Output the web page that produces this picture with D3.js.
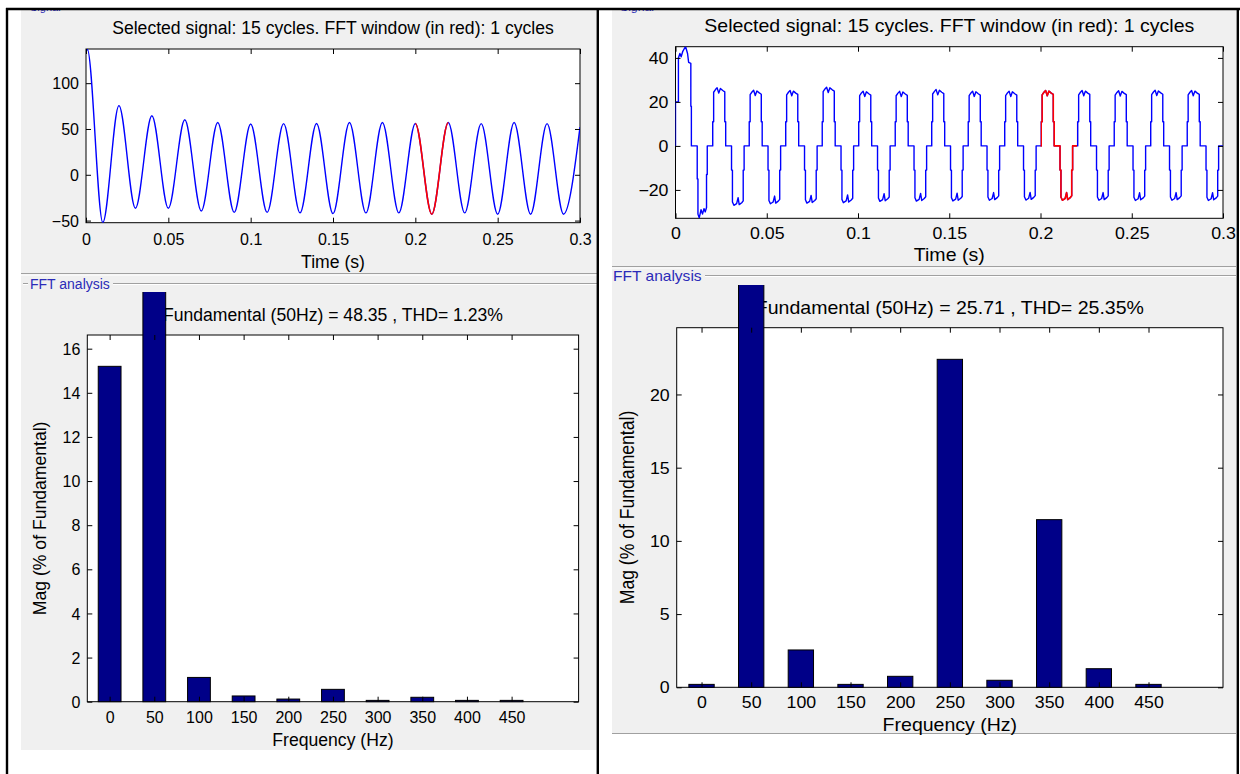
<!DOCTYPE html>
<html><head><meta charset="utf-8">
<script src="https://cdn.jsdelivr.net/npm/d3@7"></script>
<style>body{margin:0;background:#fff;overflow:hidden}</style>
</head><body>
<svg id="c" width="1240" height="774"></svg>
<script>
// ---------------- DATA ----------------
const sigTitle = "Selected signal: 15 cycles. FFT window (in red): 1 cycles";
const timeTicks = [0, 0.05, 0.1, 0.15, 0.2, 0.25, 0.3];
const timeTickLabels = ["0", "0.05", "0.1", "0.15", "0.2", "0.25", "0.3"];
const fftWindow = [0.2, 0.22];
const freqCategories = [0, 50, 100, 150, 200, 250, 300, 350, 400, 450];
const freqTickLabels = ["0", "50", "100", "150", "200", "250", "300", "350", "400", "450"];

// left case : sinusoidal signal with decaying DC offset (peaks / troughs)
const leftSignal = [
  [0,134],[0.0008,137],[0.0102,-52],[0.02,75.5],[0.03,-36.5],[0.04,64.5],[0.05,-36.5],
  [0.06,60],[0.07,-39.5],[0.08,57],[0.09,-41],[0.10,55.5],[0.11,-41],[0.12,55.8],
  [0.13,-41.6],[0.14,56],[0.15,-42.4],[0.16,57],[0.17,-41.6],[0.18,57],[0.19,-41.6],
  [0.20,56],[0.21,-43],[0.22,57],[0.23,-41.6],[0.24,55.8],[0.25,-43],[0.26,57],
  [0.27,-43],[0.28,55.8],[0.29,-43],[0.30,52]
];
const leftSignalYTicks = [-50, 0, 50, 100];
const leftSignalYDomain = [-52.3, 137.3];
const leftFundamental = "Fundamental (50Hz) = 48.35 , THD= 1.23%";
const leftHarmonics = [15.2, 100, 1.1, 0.26, 0.12, 0.56, 0.06, 0.2, 0.06, 0.06];
const leftFftYTicks = [0, 2, 4, 6, 8, 10, 12, 14, 16];
const leftFftYDomain = [0, 16.62];

// right case : stepped quasi-square signal
const rightSignal = [
  [0,0],[0,20],[0.0016,20],[0.0016,40],[0.0024,42],[0.0031,40.5],[0.0040,43],[0.0055,45.2],[0.0066,42],[0.0072,38],[0.0084,37.5],[0.0084,18],[0.0087,18],[0.0087,0],
  [0.0119,0],[0.0119,-15],[0.0123,-15],[0.0123,-31],[0.0130,-32.7],[0.0140,-29],[0.0148,-31],[0.0156,-28.5],[0.0163,-30],[0.0170,-28],[0.0170,-13],[0.0174,-13],[0.0174,0],
  [.0204,0],[.0204,11],[.0209,11],[.0209,24.4],[.0219,25.6],[.0228,26.4],[.0237,24.0],[.0246,26.1],[.0259,25.2],[.0270,24.6],[.0270,11],[.0275,11],[.0275,0],
  [.0307,0],[.0307,-11],[.0312,-11],[.0312,-25.5],[.0320,-27],[.0335,-26.2],[.0343,-23.5],[.0349,-26.7],[.0363,-25.8],[.0371,-25],[.0371,-11],[.0376,-11],[.0376,0],
  [.0404,0],[.0404,11],[.0409,11],[.0409,23.3],[.0419,24.5],[.0428,25.3],[.0437,22.9],[.0446,25.0],[.0459,24.1],[.0470,23.5],[.0470,11],[.0475,11],[.0475,0],
  [.0507,0],[.0507,-11],[.0512,-11],[.0512,-24.8],[.0520,-26.3],[.0535,-25.5],[.0543,-22.8],[.0549,-26.0],[.0563,-25.1],[.0571,-24.3],[.0571,-11],[.0576,-11],[.0576,0],
  [.0604,0],[.0604,11],[.0609,11],[.0609,23.2],[.0619,24.4],[.0628,25.2],[.0637,22.8],[.0646,24.9],[.0659,24.0],[.0670,23.4],[.0670,11],[.0675,11],[.0675,0],
  [.0707,0],[.0707,-11],[.0712,-11],[.0712,-24.5],[.0720,-26],[.0735,-25.2],[.0743,-22.5],[.0749,-25.7],[.0763,-24.8],[.0771,-24],[.0771,-11],[.0776,-11],[.0776,0],
  [.0804,0],[.0804,11],[.0809,11],[.0809,24.7],[.0819,25.9],[.0828,26.7],[.0837,24.3],[.0846,26.4],[.0859,25.5],[.0870,24.9],[.0870,11],[.0875,11],[.0875,0],
  [.0907,0],[.0907,-11],[.0912,-11],[.0912,-24.3],[.0920,-25.8],[.0935,-25.0],[.0943,-22.3],[.0949,-25.5],[.0963,-24.6],[.0971,-23.8],[.0971,-11],[.0976,-11],[.0976,0],
  [.1004,0],[.1004,11],[.1009,11],[.1009,22.9],[.1019,24.1],[.1028,24.9],[.1037,22.5],[.1046,24.6],[.1059,23.7],[.1070,23.1],[.1070,11],[.1075,11],[.1075,0],
  [.1107,0],[.1107,-11],[.1112,-11],[.1112,-23.7],[.1120,-25.2],[.1135,-24.4],[.1143,-21.7],[.1149,-24.9],[.1163,-24.0],[.1171,-23.2],[.1171,-11],[.1176,-11],[.1176,0],
  [.1204,0],[.1204,11],[.1209,11],[.1209,22.8],[.1219,24.0],[.1228,24.8],[.1237,22.4],[.1246,24.5],[.1259,23.6],[.1270,23.0],[.1270,11],[.1275,11],[.1275,0],
  [.1307,0],[.1307,-11],[.1312,-11],[.1312,-23.6],[.1320,-25.1],[.1335,-24.3],[.1343,-21.6],[.1349,-24.8],[.1363,-23.9],[.1371,-23.1],[.1371,-11],[.1376,-11],[.1376,0],
  [.1404,0],[.1404,11],[.1409,11],[.1409,23.6],[.1419,24.8],[.1428,25.6],[.1437,23.2],[.1446,25.3],[.1459,24.4],[.1470,23.8],[.1470,11],[.1475,11],[.1475,0],
  [.1507,0],[.1507,-11],[.1512,-11],[.1512,-23.5],[.1520,-25],[.1535,-24.2],[.1543,-21.5],[.1549,-24.7],[.1563,-23.8],[.1571,-23],[.1571,-11],[.1576,-11],[.1576,0],
  [.1604,0],[.1604,11],[.1609,11],[.1609,22.9],[.1619,24.1],[.1628,24.9],[.1637,22.5],[.1646,24.6],[.1659,23.7],[.1670,23.1],[.1670,11],[.1675,11],[.1675,0],
  [.1707,0],[.1707,-11],[.1712,-11],[.1712,-23.2],[.1720,-24.7],[.1735,-23.9],[.1743,-21.2],[.1749,-24.4],[.1763,-23.5],[.1771,-22.7],[.1771,-11],[.1776,-11],[.1776,0],
  [.1804,0],[.1804,11],[.1809,11],[.1809,22.9],[.1819,24.1],[.1828,24.9],[.1837,22.5],[.1846,24.6],[.1859,23.7],[.1870,23.1],[.1870,11],[.1875,11],[.1875,0],
  [.1907,0],[.1907,-11],[.1912,-11],[.1912,-23.1],[.1920,-24.6],[.1935,-23.8],[.1943,-21.1],[.1949,-24.3],[.1963,-23.4],[.1971,-22.6],[.1971,-11],[.1976,-11],[.1976,0],
  [.2000,0],
  [.2004,0],[.2004,11],[.2009,11],[.2009,23.2],[.2019,24.4],[.2028,25.2],[.2037,22.8],[.2046,24.9],[.2059,24.0],[.2070,23.4],[.2070,11],[.2075,11],[.2075,0],
  [.2107,0],[.2107,-11],[.2112,-11],[.2112,-23.2],[.2120,-24.7],[.2135,-23.9],[.2143,-21.2],[.2149,-24.4],[.2163,-23.5],[.2171,-22.7],[.2171,-11],[.2176,-11],[.2176,0],
  [.2200,0],
  [.2204,0],[.2204,11],[.2209,11],[.2209,23.2],[.2219,24.4],[.2228,25.2],[.2237,22.8],[.2246,24.9],[.2259,24.0],[.2270,23.4],[.2270,11],[.2275,11],[.2275,0],
  [.2307,0],[.2307,-11],[.2312,-11],[.2312,-23.2],[.2320,-24.7],[.2335,-23.9],[.2343,-21.2],[.2349,-24.4],[.2363,-23.5],[.2371,-22.7],[.2371,-11],[.2376,-11],[.2376,0],
  [.2404,0],[.2404,11],[.2409,11],[.2409,23.1],[.2419,24.3],[.2428,25.1],[.2437,22.7],[.2446,24.8],[.2459,23.9],[.2470,23.3],[.2470,11],[.2475,11],[.2475,0],
  [.2507,0],[.2507,-11],[.2512,-11],[.2512,-23.3],[.2520,-24.8],[.2535,-24.0],[.2543,-21.3],[.2549,-24.5],[.2563,-23.6],[.2571,-22.8],[.2571,-11],[.2576,-11],[.2576,0],
  [.2604,0],[.2604,11],[.2609,11],[.2609,23.3],[.2619,24.5],[.2628,25.3],[.2637,22.9],[.2646,25.0],[.2659,24.1],[.2670,23.5],[.2670,11],[.2675,11],[.2675,0],
  [.2707,0],[.2707,-11],[.2712,-11],[.2712,-23.2],[.2720,-24.7],[.2735,-23.9],[.2743,-21.2],[.2749,-24.4],[.2763,-23.5],[.2771,-22.7],[.2771,-11],[.2776,-11],[.2776,0],
  [.2804,0],[.2804,11],[.2809,11],[.2809,23.2],[.2819,24.4],[.2828,25.2],[.2837,22.8],[.2846,24.9],[.2859,24.0],[.2870,23.4],[.2870,11],[.2875,11],[.2875,0],
  [.2907,0],[.2907,-11],[.2912,-11],[.2912,-23.3],[.2920,-24.8],[.2935,-24.0],[.2943,-21.3],[.2949,-24.5],[.2963,-23.6],[.2971,-22.8],[.2971,-11],[.2976,-11],[.2976,0],
  [.3000,0]
];
const rightSignalYTicks = [-20, 0, 20, 40];
const rightSignalYDomain = [-32.9, 45.1];
const rightFundamental = "Fundamental (50Hz) = 25.71 , THD= 25.35%";
const rightHarmonics = [0.2, 100, 2.55, 0.2, 0.75, 22.4, 0.48, 11.45, 1.27, 0.2];
const rightFftYTicks = [0, 5, 10, 15, 20];
const rightFftYDomain = [0, 24.56];

// ---------------- LAYOUT ----------------
const FONT = '"Liberation Sans", Arial, Helvetica, sans-serif';
const panels = [
  { sx: 1, bg: [21, 10, 597, 750], sig: [86, 49, 580, 222.7], fft: [87.3, 335, 578.6, 701.7],
    sigTitleY: 28, sigXTickY: 239.5, timeLabY: 262, sepY: 273.5, frameY: 283.5, fftLabX: 30, dash: true,
    fftTitleY: 315, fftXTickY: 717, freqLabY: 740, yLabX: 40, clipTop: 292, sigLabX: 30,
    signal: leftSignal, curve: d3.curveMonotoneX, sigY: leftSignalYDomain, sigYT: leftSignalYTicks,
    fund: leftFundamental, harm: leftHarmonics, fftY: leftFftYDomain, fftYT: leftFftYTicks, bottomLine: false },
  { sx: 1.11, bg: [612, 10, 1236, 733], sig: [675.5, 46.7, 1223, 218.3], fft: [676.7, 327.7, 1223, 687.3],
    sigTitleY: 26, sigXTickY: 233, timeLabY: 255, sepY: 266.5, frameY: 275.5, fftLabX: 613, dash: false,
    fftTitleY: 308, fftXTickY: 702, freqLabY: 725, yLabX: 627, clipTop: 285, sigLabX: 620,
    signal: rightSignal, curve: d3.curveLinear, sigY: rightSignalYDomain, sigYT: rightSignalYTicks,
    fund: rightFundamental, harm: rightHarmonics, fftY: rightFftYDomain, fftYT: rightFftYTicks, bottomLine: true }
];

const svg = d3.select("#c");
const defs = svg.append("defs");
const BG = "#f0f0f0";

function txt(g, x, y, s, size, sx, opts = {}) {
  return g.append("text")
    .attr("transform", `translate(${x},${y}) scale(${sx},1)` + (opts.rot ? " rotate(-90)" : ""))
    .attr("dy", opts.dy || "0.35em")
    .attr("text-anchor", opts.anchor || "middle")
    .attr("font-family", FONT)
    .attr("font-size", size)
    .attr("fill", opts.fill || "#000")
    .text(s);
}

function styleAxis(g) {
  g.select(".domain").remove();
  g.selectAll("line").attr("stroke", "#000").attr("stroke-width", 1);
}

function axes(g, x, y, box, xT, xL, yT, sx, xLabY) {
  const [x0, y0, x1, y1] = box;
  const b = g.append("g").attr("transform", `translate(0,${y1})`)
    .call(d3.axisBottom(x).tickValues(xT).tickFormat((d, i) => xL[i]).tickSizeInner(-5).tickSizeOuter(0));
  styleAxis(b);
  b.selectAll("text").attr("y", null).attr("dy", "0.35em")
    .attr("transform", `translate(0,${xLabY - y1}) scale(${sx},1)`)
    .attr("font-family", FONT).attr("font-size", 16).attr("fill", "#000");
  const t = g.append("g").attr("transform", `translate(0,${y0})`)
    .call(d3.axisTop(x).tickValues(xT).tickFormat(() => "").tickSizeInner(-5).tickSizeOuter(0));
  styleAxis(t);
  const l = g.append("g").attr("transform", `translate(${x0},0)`)
    .call(d3.axisLeft(y).tickValues(yT).tickFormat(d3.format("d")).tickSizeInner(-5).tickSizeOuter(0));
  styleAxis(l);
  l.selectAll("text").attr("x", null).attr("dy", "0.35em")
    .attr("transform", `translate(${-7},0) scale(${sx},1)`)
    .attr("font-family", FONT).attr("font-size", 16).attr("fill", "#000");
  const r = g.append("g").attr("transform", `translate(${x1},0)`)
    .call(d3.axisRight(y).tickValues(yT).tickFormat(() => "").tickSizeInner(-5).tickSizeOuter(0));
  styleAxis(r);
}

panels.forEach((p, pi) => {
  const g = svg.append("g");
  const [bx0, by0, bx1, by1] = p.bg;
  g.append("rect").attr("x", bx0).attr("y", by0).attr("width", bx1 - bx0).attr("height", by1 - by0).attr("fill", BG);
  if (p.bottomLine) g.append("line").attr("x1", bx0).attr("x2", bx1).attr("y1", by1 + 0.5).attr("y2", by1 + 0.5).attr("stroke", "#a0a0a0");

  // "Signal" panel title at the top, mostly hidden under the frame line
  txt(g, p.sigLabX, 10.5, "Signal", 11, p.sx, { anchor: "start", fill: "#2b2bb8", dy: "0" });

  // separator between Signal and FFT panels (etched)
  g.append("line").attr("x1", bx0).attr("x2", bx1).attr("y1", p.sepY).attr("y2", p.sepY).attr("stroke", "#a0a0a0");
  g.append("line").attr("x1", bx0).attr("x2", bx1).attr("y1", p.sepY + 1.5).attr("y2", p.sepY + 1.5).attr("stroke", "#fff");
  const labW = 82 * p.sx;
  const labEnd = p.fftLabX + labW + 1;
  if (p.dash) {
    g.append("line").attr("x1", bx0 + 2).attr("x2", p.fftLabX - 2).attr("y1", p.frameY).attr("y2", p.frameY).attr("stroke", "#a0a0a0");
    g.append("line").attr("x1", bx0 + 2).attr("x2", p.fftLabX - 2).attr("y1", p.frameY + 1).attr("y2", p.frameY + 1).attr("stroke", "#fff");
  }
  g.append("line").attr("x1", labEnd).attr("x2", bx1).attr("y1", p.frameY).attr("y2", p.frameY).attr("stroke", "#a0a0a0");
  g.append("line").attr("x1", labEnd).attr("x2", bx1).attr("y1", p.frameY + 1).attr("y2", p.frameY + 1).attr("stroke", "#fff");
  txt(g, p.fftLabX, p.frameY + 1, "FFT analysis", 14, p.sx, { anchor: "start", fill: "#2b2bb8" });

  // ----- signal axes -----
  const [sx0, sy0, sx1, sy1] = p.sig;
  const xs = d3.scaleLinear().domain([0, 0.3]).range([sx0, sx1]);
  const ys = d3.scaleLinear().domain(p.sigY).range([sy1, sy0]);
  g.append("rect").attr("x", sx0).attr("y", sy0).attr("width", sx1 - sx0).attr("height", sy1 - sy0).attr("fill", "#fff").attr("stroke", "#000");
  defs.append("clipPath").attr("id", "sigclip" + pi).append("rect").attr("x", sx0).attr("y", sy0).attr("width", sx1 - sx0).attr("height", sy1 - sy0);
  defs.append("clipPath").attr("id", "winclip" + pi).append("rect")
    .attr("x", xs(fftWindow[0])).attr("y", sy0).attr("width", xs(fftWindow[1]) - xs(fftWindow[0])).attr("height", sy1 - sy0);
  const line = d3.line().x(d => xs(d[0])).y(d => ys(d[1])).curve(p.curve);
  const lg = g.append("g").attr("clip-path", `url(#sigclip${pi})`);
  lg.append("path").datum(p.signal).attr("d", line).attr("fill", "none").attr("stroke", "#0000ff").attr("stroke-width", 1.4).attr("stroke-linejoin", "round");
  lg.append("g").attr("clip-path", `url(#winclip${pi})`).append("path").datum(p.signal)
    .attr("d", line).attr("fill", "none").attr("stroke", "#ff0000").attr("stroke-width", 1.6).attr("stroke-linejoin", "round");
  axes(g, xs, ys, p.sig, timeTicks, timeTickLabels, p.sigYT, p.sx, p.sigXTickY);
  txt(g, (sx0 + sx1) / 2, p.sigTitleY, sigTitle, 17.6, p.sx);
  txt(g, (sx0 + sx1) / 2, p.timeLabY, "Time (s)", 17.6, p.sx);

  // ----- FFT axes -----
  const [fx0, fy0, fx1, fy1] = p.fft;
  const xf = d3.scaleLinear().domain([-25, 525]).range([fx0, fx1]);
  const yf = d3.scaleLinear().domain(p.fftY).range([fy1, fy0]);
  g.append("rect").attr("x", fx0).attr("y", fy0).attr("width", fx1 - fx0).attr("height", fy1 - fy0).attr("fill", "#fff").attr("stroke", "#000");
  txt(g, (fx0 + fx1) / 2, p.fftTitleY, p.fund, 17.6, p.sx);
  defs.append("clipPath").attr("id", "barclip" + pi).append("rect").attr("x", bx0).attr("y", p.clipTop).attr("width", bx1 - bx0).attr("height", fy1 - p.clipTop + 2);
  const half = 12.75;
  g.append("g").attr("clip-path", `url(#barclip${pi})`).selectAll("rect").data(freqCategories).join("rect")
    .attr("x", (d) => xf(d - half)).attr("width", xf(half) - xf(-half))
    .attr("y", (d, i) => yf(p.harm[i])).attr("height", (d, i) => yf(0) - yf(p.harm[i]))
    .attr("fill", "#000088").attr("stroke", "#000").attr("stroke-width", 1);
  axes(g, xf, yf, p.fft, freqCategories, freqTickLabels, p.fftYT, p.sx, p.fftXTickY);
  txt(g, (fx0 + fx1) / 2, p.freqLabY, "Frequency (Hz)", 17.6, p.sx);
  txt(g, p.yLabX, (fy0 + fy1) / 2, "Mag (% of Fundamental)", 17.6, p.sx, { rot: true });
});

// white strip above the frame and outer black frame
svg.append("rect").attr("x", 0).attr("y", 0).attr("width", 1240).attr("height", 8).attr("fill", "#fff");
const fr = svg.append("g").attr("stroke", "#000").attr("stroke-width", 2.4).attr("fill", "none");
fr.append("line").attr("x1", 6).attr("x2", 1240).attr("y1", 9).attr("y2", 9);
fr.append("line").attr("x1", 7).attr("x2", 7).attr("y1", 8).attr("y2", 774);
fr.append("line").attr("x1", 597.8).attr("x2", 597.8).attr("y1", 8).attr("y2", 774);
fr.append("line").attr("x1", 1237.8).attr("x2", 1237.8).attr("y1", 8).attr("y2", 774);
</script>
</body></html>
